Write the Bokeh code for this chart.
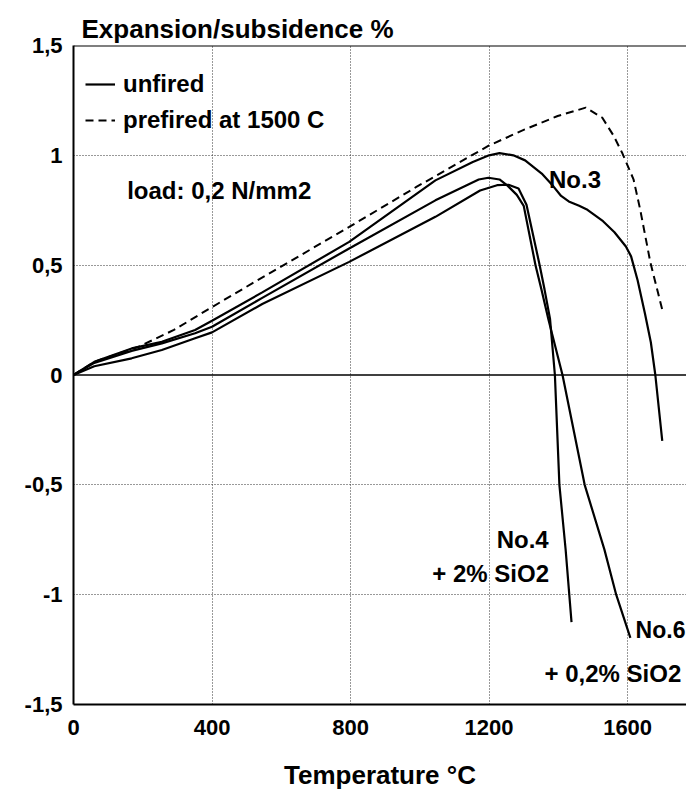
from bokeh.plotting import figure
from bokeh.models import (Range1d, FixedTicker, Span, Label, Legend, LegendItem,
                          CustomJSTickFormatter)
from bokeh.embed import file_html
from bokeh.resources import INLINE

# ---- data (temperature in deg C, expansion in %) ----
no3_temp = [0, 60, 168, 255, 351, 400, 545, 796, 1045, 1153, 1200, 1230, 1270, 1304,
            1352, 1385, 1408, 1430, 1460, 1484, 1529, 1562, 1595, 1610, 1629, 1650,
            1667, 1680, 1700]
no3_val = [0, 0.06, 0.121, 0.151, 0.205, 0.247, 0.376, 0.606, 0.886, 0.97, 1.0, 1.01,
           1.0, 0.977, 0.917, 0.86, 0.815, 0.79, 0.77, 0.752, 0.70, 0.65, 0.585, 0.54,
           0.43, 0.28, 0.149, 0.0, -0.3]

no6_temp = [0, 60, 168, 255, 351, 400, 545, 796, 1045, 1170, 1198, 1230, 1254, 1280,
            1300, 1334, 1351, 1371, 1412, 1476, 1533, 1567, 1608]
no6_val = [0, 0.055, 0.11, 0.144, 0.19, 0.22, 0.351, 0.576, 0.795, 0.89, 0.898, 0.89,
           0.861, 0.82, 0.77, 0.5, 0.39, 0.255, 0.0, -0.5, -0.795, -1.0, -1.197]

no4_temp = [0, 60, 168, 255, 351, 400, 545, 796, 1045, 1174, 1223, 1256, 1285, 1308,
            1346, 1360, 1376, 1390, 1403, 1421, 1438]
no4_val = [0, 0.04, 0.076, 0.114, 0.167, 0.194, 0.323, 0.515, 0.72, 0.84, 0.864, 0.866,
           0.849, 0.775, 0.5, 0.39, 0.255, 0.0, -0.5, -0.795, -1.125]

prefired_temp = [0, 60, 190, 290, 390, 516, 796, 990, 1200, 1303, 1398, 1479, 1527,
                 1560, 1584, 1617, 1636, 1666, 1702]
prefired_val = [0, 0.06, 0.13, 0.205, 0.30, 0.417, 0.674, 0.856, 1.045, 1.118, 1.179,
                1.217, 1.171, 1.088, 1.012, 0.891, 0.755, 0.51, 0.285]

x_ticks = [0, 400, 800, 1200, 1600]
y_ticks = [-1.5, -1, -0.5, 0, 0.5, 1, 1.5]
x_grid = [400, 800, 1200, 1600]
y_grid = [-1, -0.5, 0.5, 1]

FONT = "Liberation Sans"

p = figure(width=686, height=792, output_backend="svg", toolbar_location=None,
           x_range=Range1d(0, 1770), y_range=Range1d(-1.5, 1.5),
           min_border_left=73, min_border_right=0, min_border_top=45,
           min_border_bottom=87, background_fill_color="white",
           border_fill_color="white", outline_line_color=None)

p.title.text = "Expansion/subsidence %"
p.title.align = "left"
p.title.offset = 8
p.title.text_font = FONT
p.title.text_font_size = "26px"
p.title.text_font_style = "bold"
p.title.text_color = "black"
p.title.standoff = 4

# axes
for ax in (p.xaxis[0], p.yaxis[0]):
    ax.axis_line_width = 2
    ax.axis_line_color = "black"
    ax.major_tick_line_color = None
    ax.minor_tick_line_color = None
    ax.major_label_text_font = FONT
    ax.major_label_text_font_size = "22px"
    ax.major_label_text_font_style = "bold"
    ax.major_label_text_color = "black"

p.xaxis.ticker = FixedTicker(ticks=x_ticks)
p.yaxis.ticker = FixedTicker(ticks=y_ticks)
p.yaxis.formatter = CustomJSTickFormatter(code="return tick.toString().replace('.', ',');")
p.xaxis.major_label_standoff = 9
p.yaxis.major_label_standoff = 5
p.xaxis.axis_label = "Temperature \u00b0C"
p.xaxis.axis_label_text_font = FONT
p.xaxis.axis_label_text_font_size = "26px"
p.xaxis.axis_label_text_font_style = "bold"
p.xaxis.axis_label_text_color = "black"
p.xaxis.axis_label_standoff = 22

# grid
p.xgrid.ticker = FixedTicker(ticks=x_grid)
p.ygrid.ticker = FixedTicker(ticks=y_grid)
for g in (p.xgrid[0], p.ygrid[0]):
    g.grid_line_color = "#333333"
    g.grid_line_dash = "1 2"
    g.grid_line_width = 1

p.add_layout(Span(location=0, dimension="width", line_color="black", line_width=1.6))
p.add_layout(Span(location=1.5, dimension="width", line_color="black", line_width=2))

# curves
r3 = p.line(no3_temp, no3_val, line_color="black", line_width=2.2)
r6 = p.line(no6_temp, no6_val, line_color="black", line_width=2.2)
r4 = p.line(no4_temp, no4_val, line_color="black", line_width=2.2)
rp = p.line(prefired_temp, prefired_val, line_color="black", line_width=2,
            line_dash="8 5")

legend = Legend(items=[LegendItem(label="unfired", renderers=[r3]),
                       LegendItem(label="prefired at 1500 C", renderers=[rp])],
                location=(12, 570), padding=0, margin=0, spacing=8,
                glyph_width=30, glyph_height=24, label_height=24,
                label_standoff=8, border_line_color=None,
                background_fill_alpha=0,
                label_text_font=FONT, label_text_font_size="24px",
                label_text_font_style="bold", label_text_color="black")
p.add_layout(legend)

def add_label(text, x, y, size="24px"):
    p.add_layout(Label(x=x, y=y, text=text, text_font=FONT, text_font_size=size,
                       text_font_style="bold", text_color="black",
                       text_baseline="alphabetic", text_align="left"))

add_label("load: 0,2 N/mm2", 155, 0.841)
add_label("No.3", 1373, 0.89)
add_label("No.4", 1222, -0.75)
add_label("+ 2% SiO2", 1036, -0.902)
add_label("No.6", 1623, -1.159, "23px")
add_label("+ 0,2% SiO2", 1360, -1.359)

open("out.html", "w").write(file_html(p, INLINE))
